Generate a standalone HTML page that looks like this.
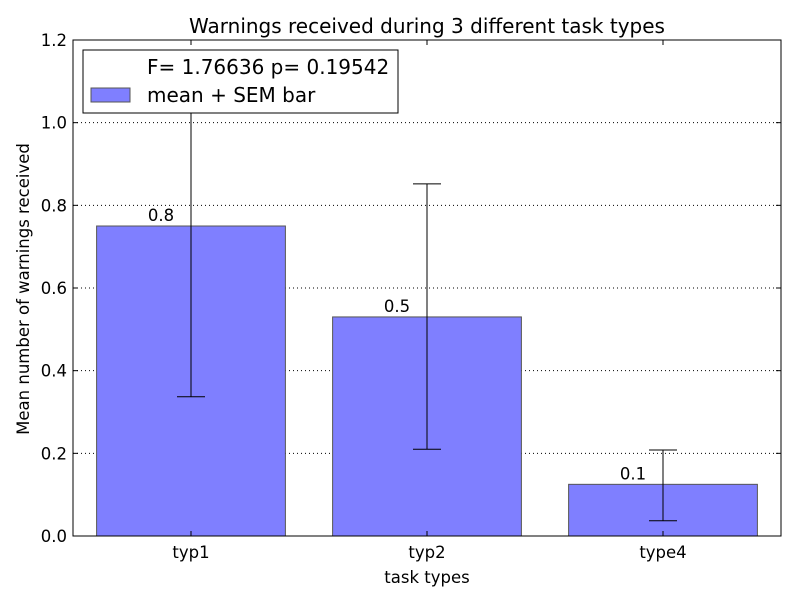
<!DOCTYPE html>
<html><head><meta charset="utf-8"><style>body{margin:0;background:#fff}svg{font-family:"DejaVu Sans","Liberation Sans",sans-serif}</style></head>
<body>
<svg id="chart" width="800" height="600" xmlns="http://www.w3.org/2000/svg">
<rect width="800" height="600" fill="#fff"/>
<text x="427" y="33" text-anchor="middle" font-size="20">Warnings received during 3 different task types</text>
<g id="grid"></g><g id="bars"></g><g id="errs"></g><g id="labels"></g><g id="axes"></g>
<text x="427" y="583" text-anchor="middle" font-size="16.5">task types</text>
<text transform="translate(29,289) rotate(-90)" text-anchor="middle" font-size="16.5">Mean number of warnings received</text>
<g>
<rect x="83" y="50" width="315" height="63" fill="#fff" stroke="#000" stroke-width="1"/>
<text x="147" y="74" font-size="20">F= 1.76636 p= 0.19542</text>
<rect x="91" y="88" width="39" height="14" fill="#7f7fff" stroke="#555"/>
<text x="147" y="102" font-size="20">mean + SEM bar</text>
</g>
</svg>
<script>
const categories=["typ1","typ2","type4"];
const means=[0.75,0.53,0.125];
const lowErr=[0.337,0.21,0.037];
const highErr=[1.163,0.852,0.208];
const valueLabels=["0.8","0.5","0.1"];
const yTicks=[0,0.2,0.4,0.6,0.8,1.0,1.2];
const L=73,R=781,T=40,B=536,ymax=1.2;
const NS="http://www.w3.org/2000/svg";
const ys=v=>B-(v/ymax)*(B-T);
const step=(R-L)/categories.length;
const xs=i=>L+step*(i+0.5);
function mk(tag,attrs,parent,txt){const e=document.createElementNS(NS,tag);for(const k in attrs)e.setAttribute(k,attrs[k]);if(txt!==undefined)e.textContent=txt;document.getElementById(parent).appendChild(e);return e;}
yTicks.forEach(t=>{
 const y=ys(t);
 if(t>0&&t<ymax){const g=mk('line',{x1:L,x2:R,y1:y,y2:y,stroke:'#000','stroke-dasharray':'1,3','stroke-width':1},'grid');
 
 }
 const a=mk('line',{x1:L,x2:L+5,y1:y,y2:y,stroke:'#000'},'axes');
 
 
 mk('line',{x1:R-5,x2:R,y1:y,y2:y,stroke:'#000'},'axes');
 const tl=mk('text',{x:L-6,y:y+6,'text-anchor':'end','font-size':16.5},'axes',t.toFixed(1));
 
 
});
const bw=step*0.8;
categories.forEach((c,i)=>{
 const x=xs(i);
 const b=mk('rect',{x:x-bw/2,y:ys(means[i]),width:bw,height:B-ys(means[i]),fill:'#7f7fff',stroke:'#555','stroke-width':1},'bars');
 
 
 const top=Math.max(ys(highErr[i]),T);
 const e=mk('line',{x1:x,x2:x,y1:top,y2:ys(lowErr[i]),stroke:'#000'},'errs');
 
 
 [lowErr[i],highErr[i]].forEach(v=>{if(v<=ymax)mk('line',{x1:x-14,x2:x+14,y1:ys(v),y2:ys(v),stroke:'#000'},'errs');});
 const v=mk('text',{x:x-30,y:ys(means[i])-5,'text-anchor':'middle','font-size':16.5},'labels',valueLabels[i]);
 
 
 mk('line',{x1:x,x2:x,y1:B,y2:B-5,stroke:'#000'},'axes');
 mk('line',{x1:x,x2:x,y1:T,y2:T+5,stroke:'#000'},'axes');
 const xl=mk('text',{x:x,y:B+22,'text-anchor':'middle','font-size':16.5},'axes',c);
 
 
});
const f=mk('rect',{x:L,y:T,width:R-L,height:B-T,fill:'none',stroke:'#000','stroke-width':1},'axes');


</script>
</body></html>
